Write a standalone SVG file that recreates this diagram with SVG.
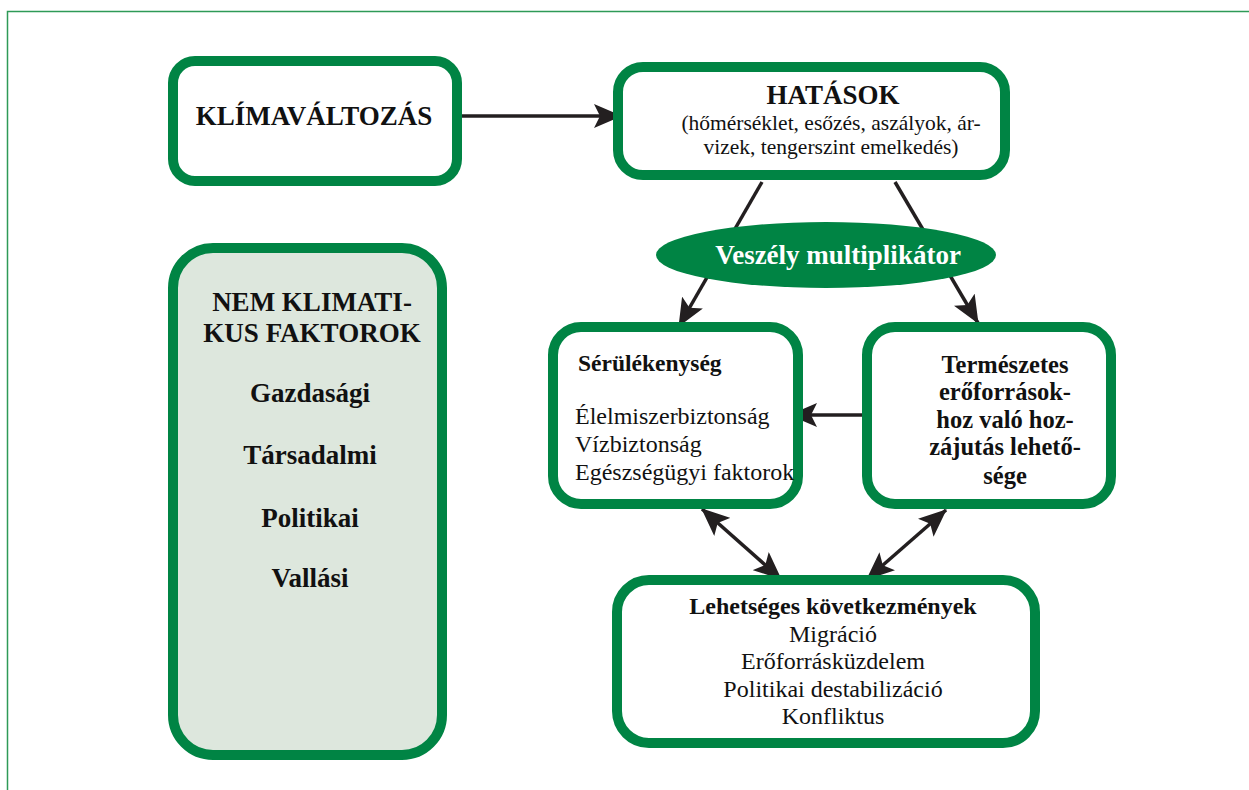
<svg xmlns="http://www.w3.org/2000/svg" width="1249" height="790" viewBox="0 0 1249 790">
<style>
.box{fill:#fff;stroke:#008444;stroke-width:10}
.t{font-family:"Liberation Serif","Times New Roman",serif;fill:#111}
.b{font-weight:bold}
.c{text-anchor:middle}
.ln{stroke:#231f20;stroke-width:3.5;fill:none}
</style>
<defs>
<marker id="ah" viewBox="0 0 28 24" refX="27" refY="12" markerWidth="28" markerHeight="24" markerUnits="userSpaceOnUse" orient="auto-start-reverse">
<path d="M0,0 L28,12 L0,24 L6,12 Z" fill="#231f20"/>
</marker>
</defs>
<rect x="7.5" y="11.5" width="1260" height="800" fill="none" stroke="#2e9a57" stroke-width="1.5"/>
<g id="connectors">
<line class="ln" x1="462" y1="116" x2="621" y2="116" marker-end="url(#ah)"/>
<line class="ln" x1="762" y1="182" x2="679" y2="326" marker-end="url(#ah)"/>
<line class="ln" x1="895" y1="182" x2="978" y2="323" marker-end="url(#ah)"/>
<line class="ln" x1="862" y1="415" x2="790" y2="415" marker-end="url(#ah)"/>
<line class="ln" x1="702" y1="509" x2="781" y2="579" marker-start="url(#ah)" marker-end="url(#ah)"/>
<line class="ln" x1="946" y1="510" x2="867" y2="579" marker-start="url(#ah)" marker-end="url(#ah)"/>
</g>
<g id="klima">
<rect class="box" x="173" y="61" width="284" height="120" rx="22"/>
<text class="t b c" x="314" y="125" font-size="27">KLÍMAVÁLTOZÁS</text>
</g>
<g id="hatasok">
<rect class="box" x="618" y="67" width="387" height="108" rx="25"/>
<text class="t b c" x="833" y="104" font-size="27">HATÁSOK</text>
<text class="t c" x="831" y="130" font-size="21.5">(hőmérséklet, esőzés, aszályok, ár-</text>
<text class="t c" x="831" y="154" font-size="21.5">vizek, tengerszint emelkedés)</text>
</g>
<g id="veszely">
<ellipse cx="826" cy="255" rx="170" ry="33" fill="#008444"/>
<text class="t b c" x="838" y="264" font-size="27" style="fill:#fff">Veszély multiplikátor</text>
</g>
<g id="nem">
<rect x="173" y="248" width="269" height="507" rx="40" fill="#dde7dd" stroke="#008444" stroke-width="10"/>
<text class="t b c" x="312" y="311" font-size="27">NEM KLIMATI-</text>
<text class="t b c" x="312" y="342" font-size="27">KUS FAKTOROK</text>
<text class="t b c" x="310" y="402" font-size="27">Gazdasági</text>
<text class="t b c" x="310" y="464" font-size="27">Társadalmi</text>
<text class="t b c" x="310" y="527" font-size="27">Politikai</text>
<text class="t b c" x="310" y="587" font-size="27">Vallási</text>
</g>
<g id="serulekenyseg">
<rect class="box" x="553" y="327" width="245" height="177" rx="28"/>
<text class="t b" x="578" y="371" font-size="23.5">Sérülékenység</text>
<text class="t" x="575" y="424" font-size="24">Élelmiszerbiztonság</text>
<text class="t" x="575" y="452" font-size="24">Vízbiztonság</text>
<text class="t" x="575" y="480" font-size="24">Egészségügyi faktorok</text>
</g>
<g id="termeszetes">
<rect class="box" x="867" y="327" width="244" height="177" rx="28"/>
<text class="t b c" x="1005" y="373" font-size="24.5">Természetes</text>
<text class="t b c" x="1005" y="400" font-size="24.5">erőforrások-</text>
<text class="t b c" x="1005" y="428" font-size="24.5">hoz való hoz-</text>
<text class="t b c" x="1005" y="455" font-size="24.5">zájutás lehető-</text>
<text class="t b c" x="1005" y="484" font-size="24.5">sége</text>
</g>
<g id="lehetseges">
<rect class="box" x="617" y="580" width="418" height="163" rx="32"/>
<text class="t b c" x="833" y="614" font-size="24">Lehetséges következmények</text>
<text class="t c" x="833" y="642" font-size="24">Migráció</text>
<text class="t c" x="833" y="669" font-size="24">Erőforrásküzdelem</text>
<text class="t c" x="833" y="697" font-size="24">Politikai destabilizáció</text>
<text class="t c" x="833" y="724" font-size="24">Konfliktus</text>
</g>
</svg>
